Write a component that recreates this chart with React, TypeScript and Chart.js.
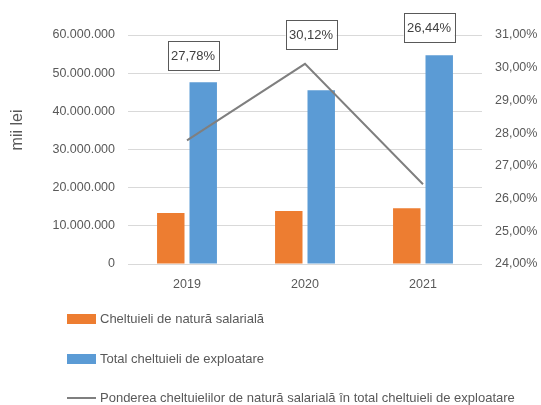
import React, { useEffect, useRef } from 'react';
import { Chart, registerables } from 'chart.js';

Chart.register(...registerables);

const categories = ['2019', '2020', '2021'];
const salaryExpenses = [13350000, 13900000, 14600000];
const totalExpenses = [47600000, 45500000, 54700000];
const salaryShare = [27.78, 30.12, 26.44];
const seriesLabels = [
  'Cheltuieli de natură salarială',
  'Total cheltuieli de exploatare',
  'Ponderea cheltuielilor de natură salarială în total cheltuieli de exploatare',
];
const leftAxis = { min: 0, max: 60000000, step: 10000000 };
const rightAxis = { min: 24, max: 31, step: 1 };
const yAxisTitle = 'mii lei';

const FONT = "'Liberation Sans', Arial, sans-serif";
const TEXT = '#595959';
const TICK_SIZE = 12.5;

const fmtThousands = (v: number) => String(Math.round(v)).replace(/\B(?=(\d{3})+(?!\d))/g, '.');
const fmtPct = (v: number) => v.toFixed(2).replace('.', ',') + '%';

const customPlugin = {
  id: 'custom',
  afterDraw(chart: any) {
    const ctx = chart.ctx;
    const ca = chart.chartArea;
    ctx.save();
    // axis title
    ctx.fillStyle = TEXT;
    ctx.font = `16px ${FONT}`;
    ctx.textAlign = 'center';
    ctx.textBaseline = 'middle';
    ctx.translate(18, ca.top + 95);
    ctx.rotate(-Math.PI / 2);
    ctx.fillText(yAxisTitle, 0, 0);
    ctx.restore();

    // data labels for the line
    const lineIdx = chart.data.datasets.findIndex((d: any) => d.type === 'line');
    const meta = chart.getDatasetMeta(lineIdx);
    const yOffsets = [20, -1, -8];
    ctx.save();
    ctx.font = `13px ${FONT}`;
    ctx.textAlign = 'center';
    ctx.textBaseline = 'middle';
    meta.data.forEach((pt: any, i: number) => {
      const txt = fmtPct(chart.data.datasets[lineIdx].data[i]);
      const cx = pt.x + 6;
      const cy = ca.top + yOffsets[i];
      const w = 51, h = 29;
      ctx.fillStyle = '#ffffff';
      ctx.fillRect(cx - w / 2, cy - h / 2, w, h);
      ctx.strokeStyle = '#595959';
      ctx.lineWidth = 1;
      ctx.strokeRect(Math.round(cx - w / 2) + 0.5, Math.round(cy - h / 2) + 0.5, w, h);
      ctx.fillStyle = '#404040';
      ctx.fillText(txt, cx, cy + 1);
    });
    ctx.restore();

    // legend
    ctx.save();
    ctx.font = `13px ${FONT}`;
    ctx.textAlign = 'left';
    ctx.textBaseline = 'middle';
    const rowsY = [319, 359, 398];
    chart.data.datasets.forEach((ds: any, i: number) => {
      const y = rowsY[i];
      if (ds.type === 'line') {
        ctx.strokeStyle = ds.borderColor;
        ctx.lineWidth = 2;
        ctx.beginPath();
        ctx.moveTo(67, y);
        ctx.lineTo(96, y);
        ctx.stroke();
      } else {
        ctx.fillStyle = ds.backgroundColor;
        ctx.fillRect(67, y - 5, 29, 10);
      }
      ctx.fillStyle = TEXT;
      ctx.fillText(ds.label, 100, y);
    });
    ctx.restore();
  },
};

export default function App() {
  const ref = useRef<HTMLCanvasElement>(null);
  useEffect(() => {
    document.body.style.margin = '0';
    const chart = new Chart(ref.current!, {
      type: 'bar',
      data: {
        labels: categories,
        datasets: [
          {
            type: 'bar',
            label: seriesLabels[0],
            data: salaryExpenses,
            backgroundColor: '#ED7D31',
            yAxisID: 'y',
            order: 1,
            categoryPercentage: 0.55,
            barPercentage: 0.846,
          },
          {
            type: 'bar',
            label: seriesLabels[1],
            data: totalExpenses,
            backgroundColor: '#5B9BD5',
            yAxisID: 'y',
            order: 1,
            categoryPercentage: 0.55,
            barPercentage: 0.846,
          },
          {
            type: 'line',
            label: seriesLabels[2],
            data: salaryShare,
            borderColor: '#7F7F7F',
            backgroundColor: '#7F7F7F',
            borderWidth: 2,
            pointRadius: 0,
            tension: 0,
            yAxisID: 'y1',
            order: 0,
          },
        ] as any,
      },
      options: {
        animation: false,
        responsive: false,
        layout: { padding: { left: 8, right: 0, top: 35, bottom: 0 } },
        plugins: { legend: { display: false }, tooltip: { enabled: false } },
        scales: {
          x: {
            grid: { display: false, drawTicks: false },
            border: { display: false },
            ticks: { color: TEXT, font: { family: FONT, size: TICK_SIZE }, padding: 13 },
            afterFit: (s: any) => { s.height = 141; },
          },
          y: {
            position: 'left',
            min: leftAxis.min,
            max: leftAxis.max,
            grid: { color: '#D9D9D9', drawTicks: false, lineWidth: 1 },
            border: { display: false },
            ticks: {
              stepSize: leftAxis.step,
              color: TEXT,
              font: { family: FONT, size: TICK_SIZE },
              padding: 13,
              callback: (v: any) => fmtThousands(Number(v)),
            },
            afterFit: (s: any) => { s.width = 120; },
          },
          y1: {
            position: 'right',
            min: rightAxis.min,
            max: rightAxis.max,
            grid: { display: false, drawTicks: false },
            border: { display: false },
            ticks: {
              stepSize: rightAxis.step,
              color: TEXT,
              font: { family: FONT, size: TICK_SIZE },
              padding: 13,
              callback: (v: any) => fmtPct(Number(v)),
            },
            afterFit: (s: any) => { s.width = 59; },
          },
        },
      },
      plugins: [customPlugin],
    });
    return () => chart.destroy();
  }, []);
  return <canvas ref={ref} width={541} height={405} style={{ display: 'block' }} />;
}
